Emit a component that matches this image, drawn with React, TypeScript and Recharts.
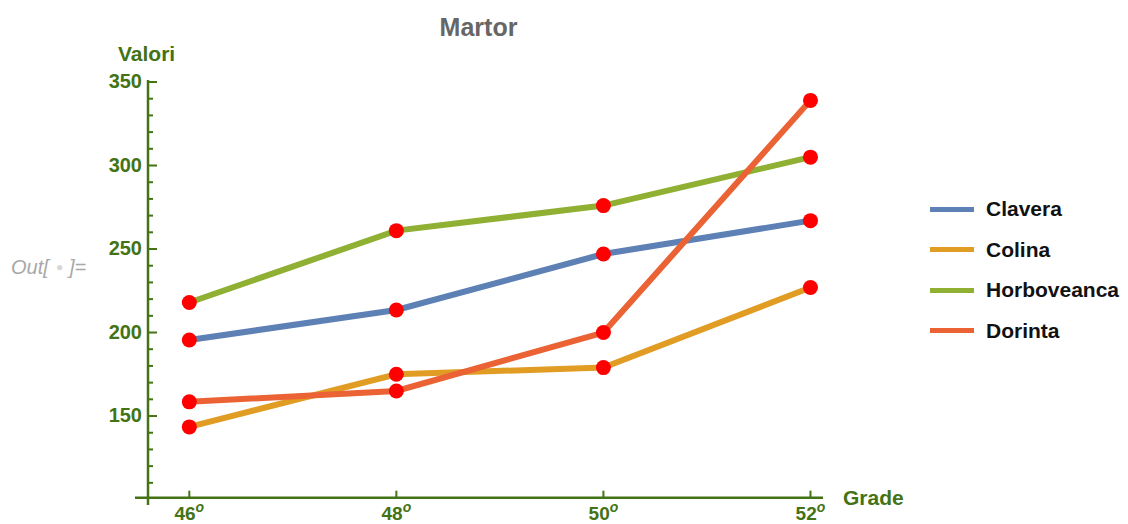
import React from 'react';
import { LineChart, Line, XAxis, YAxis, ReferenceLine, Legend } from 'recharts';

const grades = [46, 48, 50, 52];
const clavera = [195.5, 213.5, 247, 267];
const colina = [143.5, 175, 179, 227];
const horboveanca = [218, 261, 276, 305];
const dorinta = [158.5, 165, 200, 339];

const xTicks = [46, 48, 50, 52];
const yTicks = [110, 120, 130, 140, 150, 160, 170, 180, 190, 200, 210, 220, 230, 240, 250, 260, 270, 280, 290, 300, 310, 320, 330, 340, 350];

const series = [
  { key: 'Clavera', color: '#5e81b5' },
  { key: 'Colina', color: '#e19c24' },
  { key: 'Horboveanca', color: '#8fb032' },
  { key: 'Dorinta', color: '#eb6235' },
];

const data = grades.map((g, i) => ({
  grade: g,
  Clavera: clavera[i],
  Colina: colina[i],
  Horboveanca: horboveanca[i],
  Dorinta: dorinta[i],
}));

const AXIS = '#437314';
const FONT = '"Liberation Sans", Arial, sans-serif';

const XDOM: [number, number] = [45.601, 52.121];
const YDOM: [number, number] = [101.1, 351.2];

function XTick(props: any) {
  const { x, y, payload } = props;
  return (
    <g>
      <line x1={x} x2={x} y1={y} y2={y - 7} stroke={AXIS} strokeWidth={2} />
      <text x={x} y={519.5} textAnchor="middle" fill={AXIS} fontSize={19} fontWeight="bold" fontFamily={FONT}>
        {payload.value}
        <tspan dy={-8} fontSize={14} fontStyle="italic">o</tspan>
      </text>
    </g>
  );
}

function YTick(props: any) {
  const { x, y, payload } = props;
  const major = payload.value % 50 === 0;
  return (
    <g>
      <line x1={x} x2={x + (major ? 9 : 5)} y1={y} y2={y} stroke={AXIS} strokeWidth={2} />
      {major && (
        <text x={x - 6} y={y + 6} textAnchor="end" fill={AXIS} fontSize={20} fontWeight="bold" fontFamily={FONT}>
          {payload.value}
        </text>
      )}
    </g>
  );
}

function LegendBox() {
  return (
    <div style={{ fontFamily: FONT }}>
      {series.map((s) => (
        <div key={s.key} style={{ display: 'flex', alignItems: 'center', height: 40.5 }}>
          <span style={{ width: 44, height: 5, background: s.color, display: 'inline-block' }} />
          <span style={{ marginLeft: 12, fontSize: 21, fontWeight: 'bold', color: '#111' }}>{s.key}</span>
        </div>
      ))}
    </div>
  );
}

export default function App() {
  return (
    <div style={{ position: 'absolute', left: 0, top: 0, width: 1128, height: 524, background: '#fff' }}>
      <LineChart width={1128} height={524} data={data} margin={{ top: 80, right: 305, bottom: 0, left: 108 }}>
        <XAxis
          dataKey="grade"
          type="number"
          domain={XDOM}
          ticks={xTicks}
          allowDataOverflow
          axisLine={false}
          tickLine={false}
          tickSize={0}
          tickMargin={0}
          height={26.3}
          interval={0}
          tick={<XTick />}
        />
        <YAxis
          type="number"
          domain={YDOM}
          ticks={yTicks}
          allowDataOverflow
          axisLine={false}
          tickLine={false}
          tickSize={0}
          tickMargin={0}
          width={40}
          interval={0}
          tick={<YTick />}
        />
        <ReferenceLine
          segment={[{ x: 45.4755, y: YDOM[0] }, { x: XDOM[1], y: YDOM[0] }]}
          stroke={AXIS}
          strokeWidth={2.5}
          ifOverflow="visible"
        />
        <ReferenceLine
          segment={[{ x: XDOM[0], y: 96.7 }, { x: XDOM[0], y: YDOM[1] }]}
          stroke={AXIS}
          strokeWidth={2.5}
          ifOverflow="visible"
        />
        {series.map((s) => (
          <Line
            key={s.key}
            dataKey={s.key}
            stroke={s.color}
            strokeWidth={6}
            dot={{ r: 7.5, fill: '#ff0000', stroke: 'none' }}
            activeDot={false}
            isAnimationActive={false}
          />
        ))}
        <Legend
          layout="vertical"
          align="center"
          verticalAlign="middle"
          wrapperStyle={{ left: 930, top: 189, width: 200 }}
          content={<LegendBox />}
        />
      </LineChart>
      <svg width={1128} height={524} style={{ position: 'absolute', left: 0, top: 0, pointerEvents: 'none' }}>
        <text x={478.5} y={36} textAnchor="middle" fill="#666" fontSize={25} fontWeight="bold" fontFamily={FONT}>
          Martor
        </text>
        <text x={118} y={60.5} fill={AXIS} fontSize={21} fontWeight="bold" fontFamily={FONT}>
          Valori
        </text>
        <text x={843} y={505} fill={AXIS} fontSize={21} fontWeight="bold" fontFamily={FONT}>
          Grade
        </text>
        <g fill="#a8a8a8" fontSize={20} fontStyle="italic" fontFamily={FONT}>
          <text x={11} y={273.5}>Out[</text>
          <text x={56} y={271} fill="#d6d6d6" fontSize={12} fontStyle="normal">●</text>
          <text x={69} y={273.5}>]=</text>
        </g>
      </svg>
    </div>
  );
}
